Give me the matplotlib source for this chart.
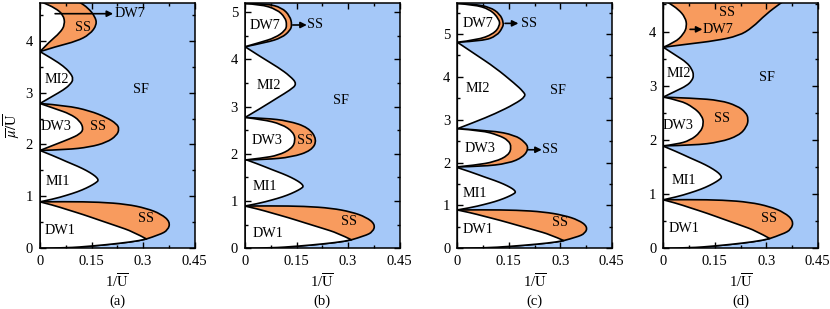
import matplotlib
matplotlib.use("Agg")
import matplotlib.pyplot as plt
from matplotlib.path import Path
from matplotlib.patches import PathPatch
from matplotlib.ticker import MultipleLocator, FixedLocator, FixedFormatter

plt.rcParams['font.family'] = ['Liberation Serif', 'DejaVu Serif']
plt.rcParams['mathtext.fontset'] = 'stix'

BLUE = '#a5c8f8'
ORANGE = '#f89b5e'

# ---------------- data (x = 1/U, y = mu/U) ----------------
PANELS = ['(a)', '(b)', '(c)', '(d)']
YMAX = [4.73, 5.2, 5.73, 4.53]
XTICKS = [0, 0.15, 0.3, 0.45]
XTICKLABELS = ['0', '0.15', '0.3', '0.45']

# shared lowest lobes
DW1_LOWER = [(0, 0), (0.077, 0.006), (0.155, 0.045), (0.232, 0.096), (0.29, 0.147), (0.31, 0.18)]
DW1_UPPER = [(0.31, 0.18), (0.271, 0.32), (0.223, 0.43), (0.174, 0.54), (0.126, 0.65),
             (0.077, 0.75), (0.039, 0.83), (0, 0.895)]
DW1_OUTER = [(0.31, 0.18), (0.348, 0.26), (0.373, 0.35), (0.379, 0.51), (0.353, 0.66),
             (0.31, 0.77), (0.252, 0.85), (0.174, 0.89), (0.077, 0.90), (0, 0.895)]
MI1 = [(0, 0.895), (0.04, 0.95), (0.077, 1.02), (0.11, 1.09), (0.135, 1.16), (0.155, 1.23),
       (0.166, 1.28), (0.17, 1.31), (0.166, 1.36), (0.155, 1.42), (0.135, 1.50), (0.11, 1.58),
       (0.077, 1.67), (0.04, 1.78), (0, 1.885)]

# panel (a)
A_DW3_IN = [(0, 1.885), (0.048, 2.01), (0.087, 2.11), (0.116, 2.20), (0.127, 2.30),
            (0.116, 2.46), (0.087, 2.59), (0.048, 2.68), (0, 2.79)]
A_DW3_OUT = [(0, 1.885), (0.077, 1.90), (0.145, 1.95), (0.194, 2.04), (0.223, 2.17),
             (0.231, 2.30), (0.223, 2.40), (0.194, 2.52), (0.145, 2.65), (0.077, 2.75), (0, 2.79)]
A_MI2 = [(0, 2.79), (0.039, 2.94), (0.068, 3.05), (0.087, 3.15), (0.098, 3.26),
         (0.087, 3.39), (0.068, 3.51), (0.039, 3.64), (0, 3.79)]
A_DW7_IN = [(0, 3.79), (0.029, 3.99), (0.058, 4.15), (0.073, 4.31), (0.068, 4.50),
            (0.044, 4.63), (0.01, 4.73), (0, 4.76)]
A_DW7_OUT = [(0, 3.79), (0.048, 3.89), (0.107, 3.99), (0.145, 4.12), (0.166, 4.31),
             (0.16, 4.47), (0.14, 4.63), (0.116, 4.74), (0.10, 4.8), (0, 4.8)]

# panel (b)
B_DW3_IN = [(0, 1.87), (0.05, 1.91), (0.097, 1.97), (0.136, 2.11), (0.147, 2.28),
            (0.141, 2.46), (0.107, 2.63), (0.05, 2.73), (0, 2.77)]
B_DW3_OUT = [(0, 1.87), (0.06, 1.88), (0.136, 1.93), (0.194, 2.07), (0.21, 2.30),
             (0.185, 2.56), (0.126, 2.70), (0.06, 2.755), (0, 2.77)]
B_MI2 = [(0, 2.77), (0.049, 2.98), (0.097, 3.2), (0.131, 3.35), (0.152, 3.48),
         (0.131, 3.65), (0.097, 3.83), (0.049, 4.04), (0, 4.27)]
B_DW7_IN = [(0, 4.27), (0.044, 4.36), (0.088, 4.46), (0.117, 4.61), (0.122, 4.73),
            (0.117, 4.89), (0.093, 5.06), (0.044, 5.17), (0, 5.18)]
B_DW7_OUT = [(0, 4.27), (0.063, 4.36), (0.107, 4.46), (0.131, 4.61), (0.137, 4.73),
             (0.131, 4.92), (0.107, 5.10), (0.063, 5.18), (0, 5.19)]

# panel (c)
C_DW3_IN = [(0, 1.90), (0.052, 1.94), (0.110, 2.02), (0.149, 2.17), (0.158, 2.36),
            (0.149, 2.52), (0.120, 2.64), (0.071, 2.75), (0, 2.79)]
C_DW3_OUT = [(0, 1.90), (0.071, 1.91), (0.149, 1.98), (0.192, 2.13), (0.208, 2.33),
             (0.197, 2.48), (0.168, 2.64), (0.10, 2.75), (0, 2.79)]
C_MI2 = [(0, 2.79), (0.052, 2.95), (0.110, 3.14), (0.168, 3.37), (0.2, 3.55),
         (0.192, 3.66), (0.168, 3.84), (0.110, 4.22), (0.052, 4.53), (0, 4.81)]
C_DW7_IN = [(0, 4.81), (0.057, 4.86), (0.105, 5.0), (0.124, 5.19), (0.122, 5.35),
            (0.095, 5.58), (0.047, 5.69), (0, 5.71)]
C_DW7_OUT = [(0, 4.81), (0.076, 4.84), (0.115, 4.96), (0.132, 5.15), (0.135, 5.27),
             (0.124, 5.47), (0.095, 5.63), (0.047, 5.70), (0, 5.71)]

# panel (d)
D_DW3_IN = [(0, 1.89), (0.039, 1.92), (0.078, 1.99), (0.108, 2.14), (0.118, 2.30),
            (0.1125, 2.45), (0.088, 2.60), (0.049, 2.73), (0, 2.79)]
D_DW3_OUT = [(0, 1.89), (0.088, 1.90), (0.166, 1.96), (0.220, 2.08), (0.243, 2.24),
             (0.248, 2.39), (0.240, 2.51), (0.215, 2.63), (0.166, 2.73), (0.088, 2.77), (0, 2.79)]
D_MI2 = [(0, 2.79), (0.039, 2.91), (0.068, 3.0), (0.083, 3.09), (0.089, 3.19),
         (0.083, 3.31), (0.068, 3.43), (0.039, 3.55), (0, 3.71)]
D_DW7_IN = [(0, 3.71), (0.034, 3.80), (0.059, 3.95), (0.069, 4.10), (0.064, 4.26),
            (0.044, 4.41), (0.015, 4.53), (0, 4.6)]
D_DW7_OUT = [(0, 3.71), (0.073, 3.77), (0.152, 3.83), (0.220, 3.92), (0.259, 4.07),
             (0.299, 4.32), (0.343, 4.53), (0.36, 4.6), (0, 4.6)]

DW3_IN = [A_DW3_IN, B_DW3_IN, C_DW3_IN, D_DW3_IN]
DW3_OUT = [A_DW3_OUT, B_DW3_OUT, C_DW3_OUT, D_DW3_OUT]
MI2 = [A_MI2, B_MI2, C_MI2, D_MI2]
DW7_IN = [A_DW7_IN, B_DW7_IN, C_DW7_IN, D_DW7_IN]
DW7_OUT = [A_DW7_OUT, B_DW7_OUT, C_DW7_OUT, D_DW7_OUT]

# region labels: (text, x, y)
LABELS = [
    [('SS', 0.126, 4.25), ('MI2', 0.048, 3.25), ('SF', 0.295, 3.06), ('DW3', 0.048, 2.35),
     ('SS', 0.169, 2.35), ('MI1', 0.053, 1.29), ('SS', 0.31, 0.58), ('DW1', 0.058, 0.35)],
    [('DW7', 0.058, 4.71), ('MI2', 0.068, 3.45), ('SF', 0.278, 3.13), ('DW3', 0.063, 2.28),
     ('SS', 0.175, 2.28), ('MI1', 0.058, 1.30), ('SS', 0.302, 0.56), ('DW1', 0.068, 0.32)],
    [('DW7', 0.061, 5.25), ('MI2', 0.061, 3.72), ('SF', 0.294, 3.68), ('DW3', 0.066, 2.33),
     ('MI1', 0.052, 1.29), ('SS', 0.299, 0.60), ('DW1', 0.061, 0.43)],
    [('SS', 0.186, 4.36), ('MI2', 0.044, 3.22), ('SF', 0.303, 3.15), ('DW3', 0.044, 2.27),
     ('SS', 0.171, 2.39), ('MI1', 0.059, 1.26), ('SS', 0.309, 0.55), ('DW1', 0.059, 0.37)],
]
# arrows: (x_start, x_end, y, text, x_text)
ARROWS = [
    [(0.044, 0.213, 4.52, 'DW7', 0.262)],
    [(0.139, 0.18, 4.73, 'SS', 0.205)],
    [(0.139, 0.178, 5.25, 'SS', 0.208), (0.207, 0.246, 2.30, 'SS', 0.27)],
    [(0.078, 0.114, 4.04, 'DW7', 0.16)],
]


def seg_path(pts):
    """vertices/codes drawing a smooth curve through the read points."""
    verts, codes = [], []
    n = len(pts)
    if n == 2:
        return [pts[1]], [Path.LINETO]
    for i in range(1, n - 1):
        if i < n - 2:
            end = ((pts[i][0] + pts[i + 1][0]) / 2, (pts[i][1] + pts[i + 1][1]) / 2)
        else:
            end = pts[i + 1]
        verts += [pts[i], end]
        codes += [Path.CURVE3, Path.CURVE3]
    return verts, codes


def region(ax, segments, color):
    verts = [segments[0][0]]
    codes = [Path.MOVETO]
    for s in segments:
        v, c = seg_path(s)
        verts += v
        codes += c
    verts.append(segments[0][0])
    codes.append(Path.CLOSEPOLY)
    ax.add_patch(PathPatch(Path(verts, codes), facecolor=color, edgecolor='black',
                           lw=1.2, joinstyle='round'))


fig = plt.figure(figsize=(8.3, 3.09), dpi=100)
LEFTS = [40 / 830, 245 / 830, 457.3 / 830, 663.3 / 830]
for k in range(4):
    ax = fig.add_axes([LEFTS[k], 1 - 248.3 / 309, 154.5 / 830, 245.5 / 309])
    ax.set_facecolor(BLUE)
    ax.set_xlim(0, 0.45)
    ax.set_ylim(0, YMAX[k])

    # orange supersolid regions
    region(ax, [DW1_LOWER, DW1_OUTER], ORANGE)
    region(ax, [DW3_OUT[k]], ORANGE)
    region(ax, [DW7_OUT[k]], ORANGE)
    # white insulating lobes
    region(ax, [DW1_LOWER, DW1_UPPER], 'white')
    region(ax, [MI1], 'white')
    region(ax, [DW3_IN[k]], 'white')
    region(ax, [MI2[k]], 'white')
    region(ax, [DW7_IN[k]], 'white')

    for t, x, y in LABELS[k]:
        ax.text(x, y, t, ha='center', va='center', fontsize=10.2)
    for x0, x1, y, t, xt in ARROWS[k]:
        ax.annotate('', xy=(x1, y), xytext=(x0, y),
                    arrowprops=dict(arrowstyle='-|>', color='black', lw=1.2,
                                    mutation_scale=9, shrinkA=0, shrinkB=0))
        ax.text(xt, y, t, ha='center', va='center', fontsize=10.2)

    ax.xaxis.set_major_locator(FixedLocator(XTICKS))
    ax.xaxis.set_major_formatter(FixedFormatter(XTICKLABELS))
    ax.xaxis.set_minor_locator(MultipleLocator(0.075))
    ax.yaxis.set_major_locator(MultipleLocator(1))
    ax.yaxis.set_minor_locator(MultipleLocator(0.5))
    ax.tick_params(which='both', direction='in', top=True, right=True,
                   labelsize=10.5, width=1.0, pad=5)
    ax.tick_params(which='major', length=4)
    ax.tick_params(which='minor', length=2.5)
    for sp in ax.spines.values():
        sp.set_linewidth(1.1)

    ax.set_xlabel(r'1/$\overline{\mathrm{U}}$', fontsize=10.5, labelpad=3)
    ax.text(0.5, -0.215, PANELS[k], transform=ax.transAxes, ha='center', va='center',
            fontsize=10.5)
    if k == 0:
        ax.set_ylabel(r'$\overline{\mu}/\overline{\mathrm{U}}$', fontsize=10.5)
        ax.yaxis.set_label_coords(-0.11, 0.5)

fig.savefig('out.png', dpi=100)
